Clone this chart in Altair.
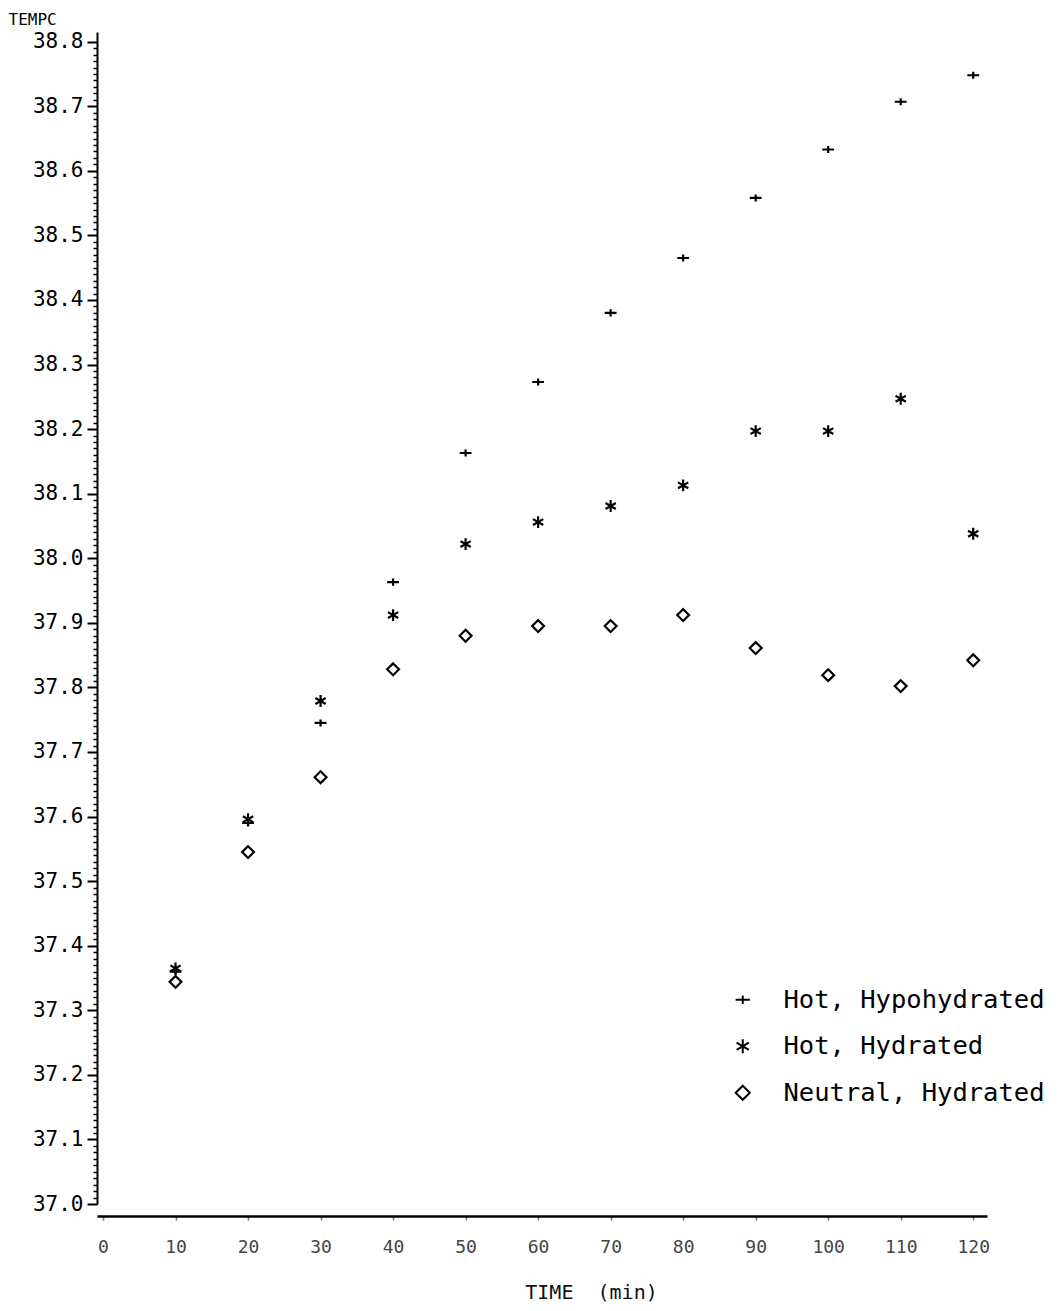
import altair as alt
import pandas as pd

# ---- data ----
times = [10, 20, 30, 40, 50, 60, 70, 80, 90, 100, 110, 120]
hot_hypohydrated = [37.36, 37.59, 37.745, 37.963, 38.163, 38.273, 38.38, 38.465, 38.558, 38.633, 38.707, 38.748]
hot_hydrated = [37.365, 37.596, 37.779, 37.912, 38.022, 38.056, 38.081, 38.113, 38.197, 38.197, 38.247, 38.038]
neutral_hydrated = [37.344, 37.545, 37.661, 37.828, 37.88, 37.895, 37.895, 37.912, 37.861, 37.819, 37.802, 37.842]

series_names = ["Hot, Hypohydrated", "Hot, Hydrated", "Neutral, Hydrated"]
series_values = [hot_hypohydrated, hot_hydrated, neutral_hydrated]

x_ticks = [0, 10, 20, 30, 40, 50, 60, 70, 80, 90, 100, 110, 120]
y_ticks = [round(37.0 + i * 0.01, 2) for i in range(181)]

rows = []
for name, vals in zip(series_names, series_values):
    for t, v in zip(times, vals):
        rows.append({"time": t, "temp": v, "series": name})
df = pd.DataFrame(rows)

plus_path = "M-1,0H1M0,-0.6V0.6"
star_path = "M0,-1V1M-0.87,-0.5L0.87,0.5M-0.87,0.5L0.87,-0.5"
diamond_path = "M0,-1L1,0L0,1L-1,0Z"

mono = "DejaVu Sans Mono"

chart = alt.Chart(df).mark_point(
    filled=False, color="black", strokeWidth=2.2, size=140, opacity=1
).encode(
    x=alt.X(
        "time:Q",
        scale=alt.Scale(domain=[-0.83, 121.9], nice=False, zero=False),
        axis=alt.Axis(
            values=x_ticks,
            title="TIME\u00a0\u00a0(min)",
            titleFont=mono,
            titleFontSize=20,
            titleFontWeight="normal",
            titleColor="#111",
            titleX=494,
            titleY=82,
            titleAlign="center",
            titleBaseline="alphabetic",
            offset=12,
            labelFont=mono,
            labelFontSize=18,
            labelColor="#444",
            labelPadding=18,
            tickSize=4,
            tickWidth=1.5,
            tickColor="#777",
            domainColor="black",
            domainWidth=2.5,
            grid=False,
        ),
    ),
    y=alt.Y(
        "temp:Q",
        scale=alt.Scale(domain=[37.0, 38.815], nice=False, zero=False),
        axis=alt.Axis(
            values=y_ticks,
            labelExpr="round(datum.value*100) % 10 == 0 ? format(datum.value, '.1f') : ''",
            title="TEMPC",
            titleFont=mono,
            titleFontSize=16,
            titleFontWeight="normal",
            titleColor="black",
            titleAngle=0,
            titleAlign="left",
            titleBaseline="alphabetic",
            titleX=-89,
            titleY=-8,
            labelFont=mono,
            labelFontSize=21,
            labelColor="black",
            labelPadding=4,
            labelOverlap=False,
            tickSize={"condition": {"test": "round(datum.value*100) % 10 == 0", "value": 10}, "value": 4},
            tickWidth={"condition": {"test": "round(datum.value*100) % 10 == 0", "value": 2}, "value": 1.5},
            tickColor="black",
            domainColor="black",
            domainWidth=2,
            grid=False,
        ),
    ),
    shape=alt.Shape(
        "series:N",
        scale=alt.Scale(domain=series_names, range=[plus_path, star_path, diamond_path]),
        legend=alt.Legend(
            title=None,
            orient="none",
            legendX=633,
            legendY=955,
            labelFont=mono,
            labelFontSize=25.5,
            labelColor="black",
            labelLimit=0,
            labelOffset=28,
            symbolSize=200,
            symbolStrokeWidth=2,
            symbolStrokeColor="black",
            symbolFillColor="transparent",
            rowPadding=19.5,
            padding=0,
        ),
    ),
).properties(
    width=890,
    height=1172,
    background="white",
    autosize=alt.AutoSizeParams(type="none"),
    padding={"left": 97, "top": 32, "right": 77, "bottom": 107},
).configure_view(strokeWidth=0, stroke=None)

chart.save("out.html", embed_options={"renderer": "svg", "actions": False})
